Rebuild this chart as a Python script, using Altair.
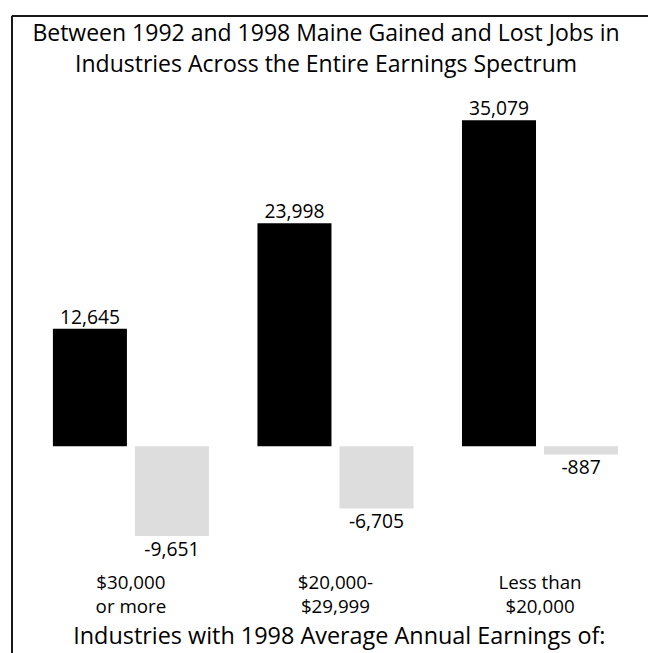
import altair as alt
import pandas as pd

categories = ["$30,000\nor more", "$20,000-\n$29,999", "Less than\n$20,000"]
gained = [12645, 23998, 35079]
lost = [-9651, -6705, -887]
series = ["Gained", "Lost"]

rows = []
for c, g, l in zip(categories, gained, lost):
    rows.append({"category": c, "type": "Gained", "jobs": g})
    rows.append({"category": c, "type": "Lost", "jobs": l})
df = pd.DataFrame(rows)

W = 636
H = 641
FONT = "Open Sans"

x = alt.X(
    "category:N",
    sort=categories,
    scale=alt.Scale(paddingInner=0.237, paddingOuter=0.154, align=0.65),
    axis=alt.Axis(
        orient="bottom",
        offset=-76,
        ticks=False,
        domain=False,
        labelAngle=0,
        labelPadding=0,
        labelBaseline="top",
        labelFont=FONT,
        labelFontSize=19,
        labelColor="#000000",
        labelLineHeight=24,
        labelExpr="split(datum.label, '\\n')",
        title="Industries with 1998 Average Annual Earnings of:",
        titleFont=FONT,
        titleFontSize=23.7,
        titleFontWeight="normal",
        titleColor="#000000",
        titlePadding=8,
        titleBaseline="top",
        titleX=331,
        titleAlign="center",
    ),
)
xo = alt.XOffset("type:N", sort=series, scale=alt.Scale(paddingInner=0.0976, paddingOuter=0))
y = alt.Y("jobs:Q", scale=alt.Scale(domain=[-21812, 46297], nice=False, zero=False), axis=None)

base = alt.Chart(df).encode(x=x, xOffset=xo).transform_calculate(
    label="(datum.jobs < 0 ? '-' : '') + format(abs(datum.jobs), ',')"
)

bars = base.mark_bar().encode(
    y=y,
    y2=alt.datum(0),
    color=alt.Color("type:N", scale=alt.Scale(domain=series, range=["#000000", "#dddddd"]), legend=None),
)

pos_text = base.transform_filter("datum.jobs >= 0").mark_text(
    baseline="alphabetic", dy=-5, font=FONT, fontSize=19.5, color="#000000"
).encode(y=y, text="label:N")

neg_text = base.transform_filter("datum.jobs < 0").mark_text(
    baseline="top", dy=5, font=FONT, fontSize=19.5, color="#000000"
).encode(y=y, text="label:N")

left_border = alt.Chart(df).mark_rule(color="#1a1a1a", strokeWidth=1.5).encode(
    x=alt.value(0), y=alt.value(0), y2=alt.value(H + 20)
)
top_border = alt.Chart(df).mark_rule(color="#1a1a1a", strokeWidth=1.5).encode(
    x=alt.value(0), x2=alt.value(W + 20), y=alt.value(0)
)

chart = alt.layer(bars, pos_text, neg_text, left_border, top_border).properties(
    width=W,
    height=H,
    autosize=alt.AutoSizeParams(type="none"),
    padding={"left": 4, "top": 4, "right": 8, "bottom": 0},
    title=alt.TitleParams(
        text=[
            "Between 1992 and 1998 Maine Gained and Lost Jobs in",
            "Industries Across the Entire Earnings Spectrum",
        ],
        font=FONT,
        fontSize=23.3,
        fontWeight="normal",
        color="#000000",
        anchor="middle",
        frame="group",
        baseline="top",
        lineHeight=32,
        offset=-63,
    ),
).configure_view(stroke=None)

chart.save("out.html", embed_options={"renderer": "svg", "actions": False})
